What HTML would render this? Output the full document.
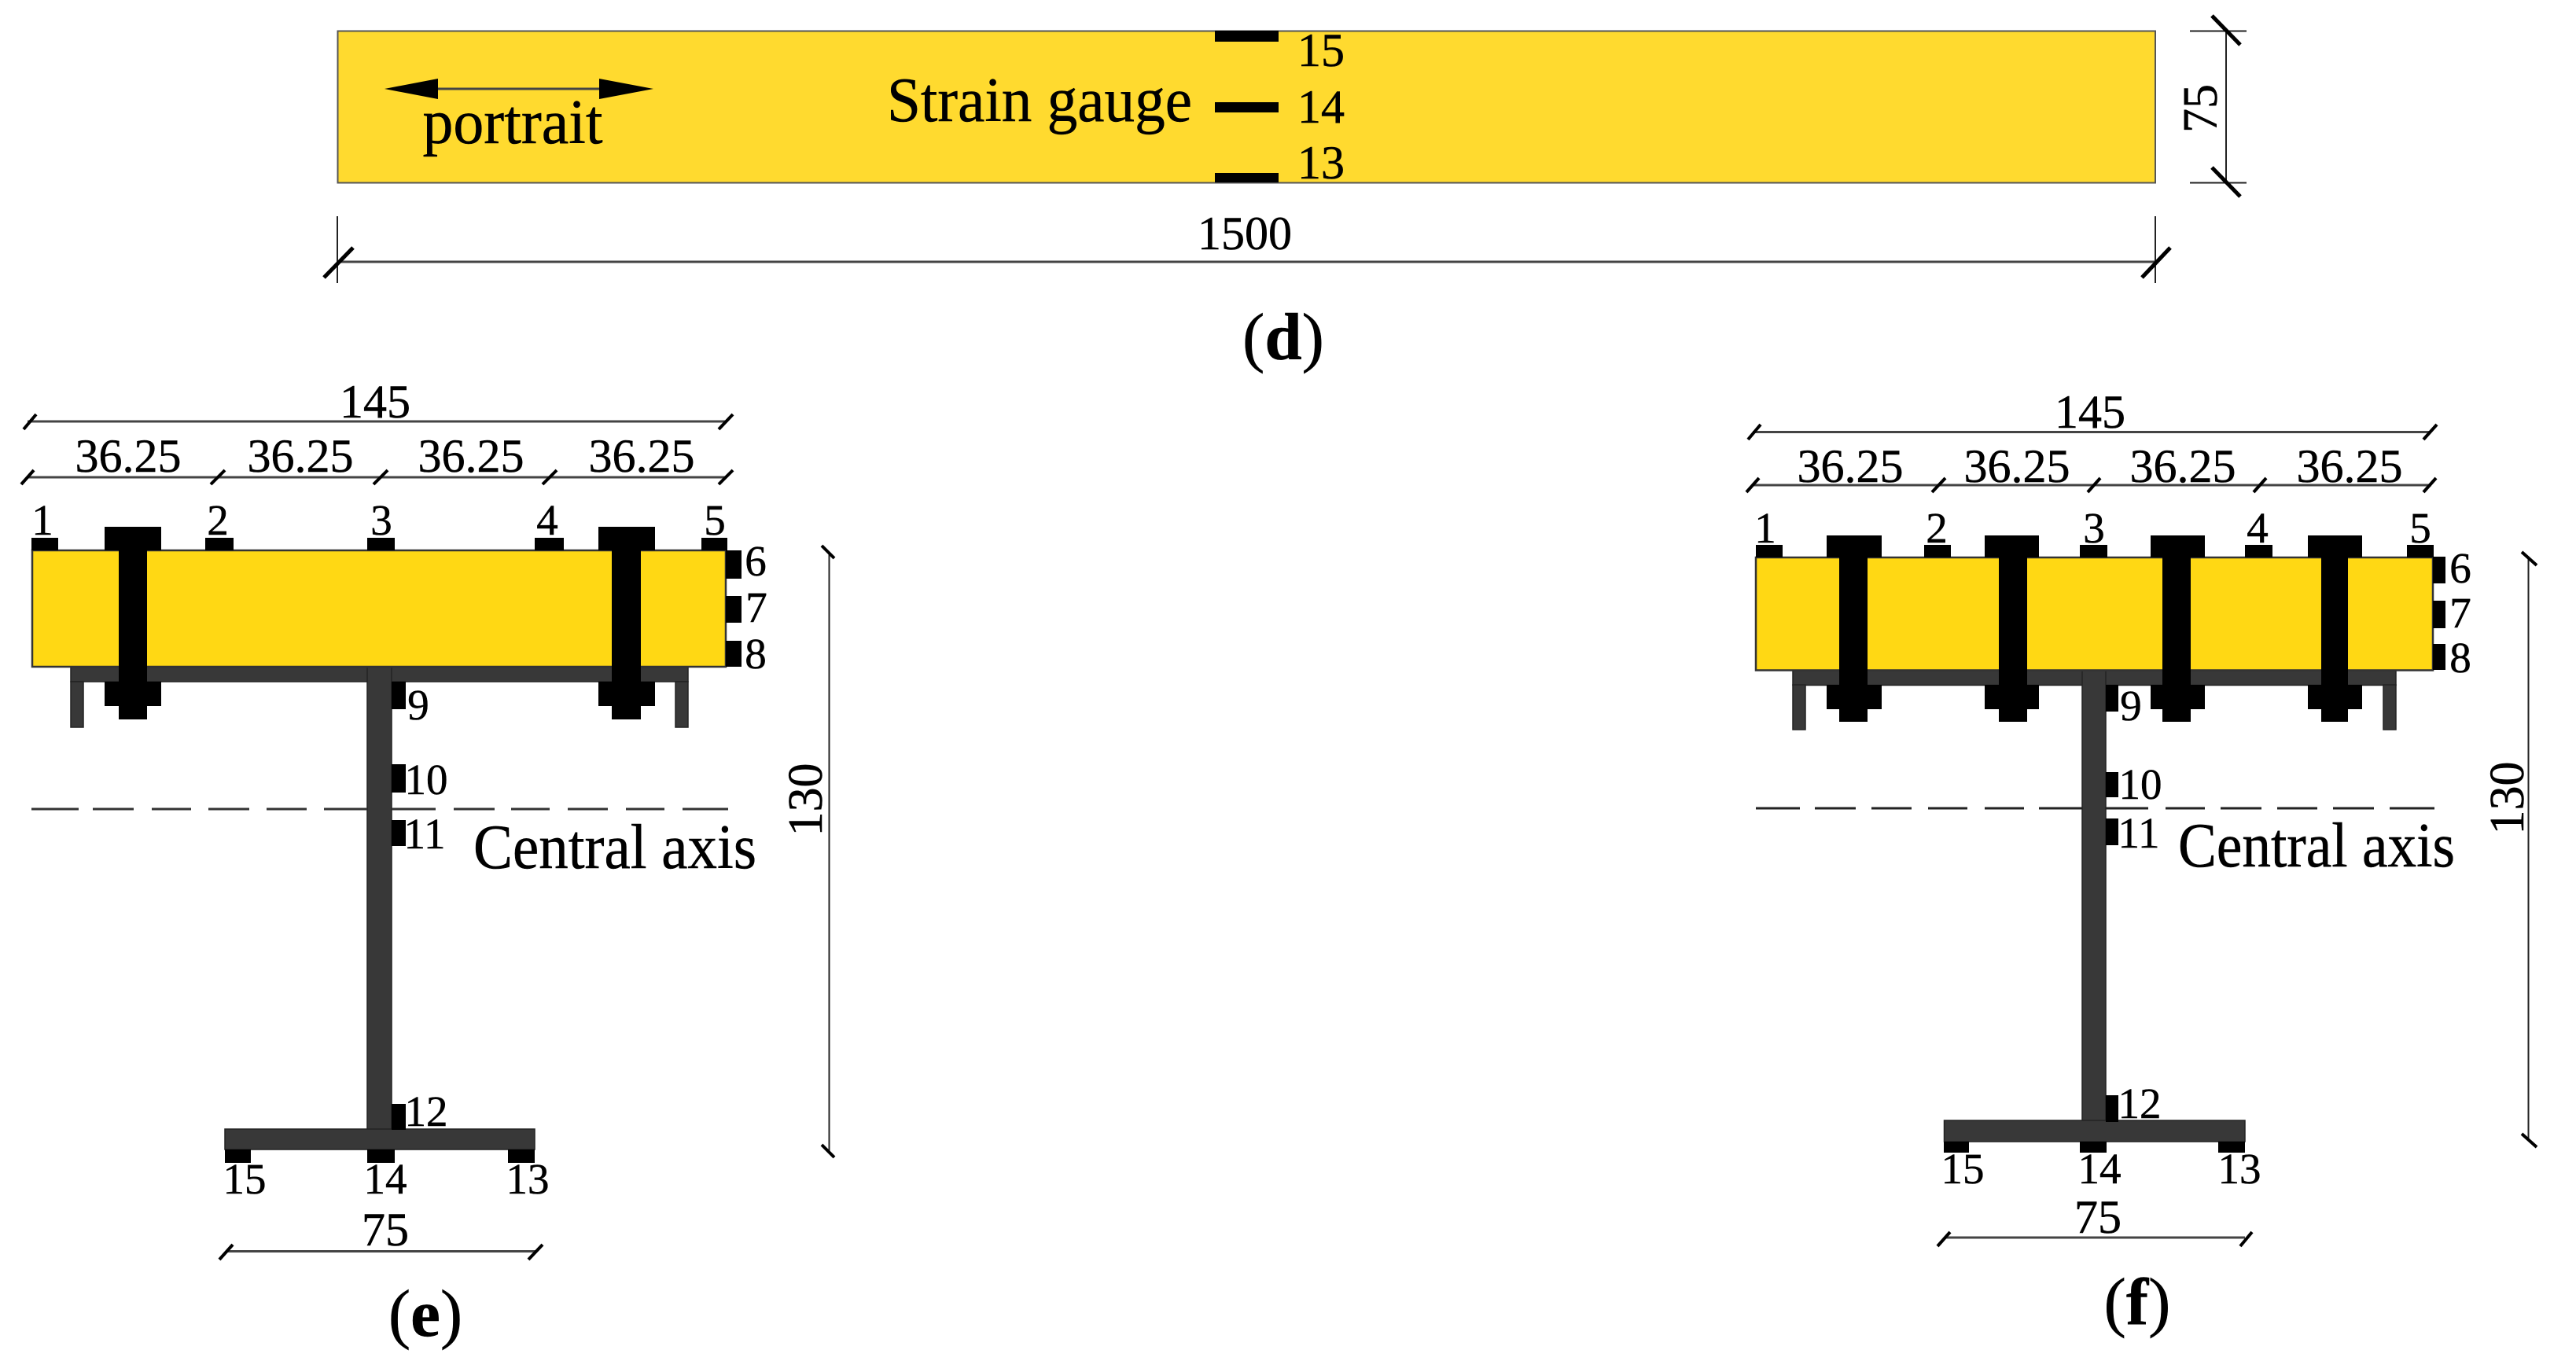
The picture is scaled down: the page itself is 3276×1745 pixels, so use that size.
<!DOCTYPE html>
<html><head><meta charset="utf-8"><style>
html,body{margin:0;padding:0;background:#fff}
svg{display:block}
text{font-family:"Liberation Serif",serif;fill:#000;text-anchor:middle;stroke:#000;stroke-width:.5px}
.n{font-size:60px}.s{font-size:55px}.b{font-size:80px}.c{font-size:85px}
.k{fill:#000}.st{fill:#383838;stroke:#222;stroke-width:1.5}
.d{stroke:#444;stroke-width:3;fill:none}.t{stroke:#000;stroke-width:5;fill:none}
.h{stroke:#222;stroke-width:2;fill:none}
</style></head><body>
<svg xmlns="http://www.w3.org/2000/svg" width="3276" height="1745" viewBox="0 0 3276 1745">
<rect width="3276" height="1745" fill="#fff"/>
<!-- (d) -->
<rect x="429.5" y="39.5" width="2311.5" height="193" fill="#FFDA2F" stroke="#555" stroke-width="2"/>
<rect class="k" x="1545" y="39" width="81" height="14"/><rect class="k" x="1545" y="130" width="81" height="13"/><rect class="k" x="1545" y="220" width="81" height="12"/>
<text class="n" x="1680" y="84">15</text><text class="n" x="1680" y="156">14</text><text class="n" x="1680" y="227">13</text>
<text class="b" x="1322" y="154" textLength="388" lengthAdjust="spacingAndGlyphs">Strain gauge</text>
<path class="d" d="M557 113H762"/><path class="k" d="M489 113L557 100V126ZM831 113L762 100V126Z"/>
<text class="b" x="652" y="182" textLength="229" lengthAdjust="spacingAndGlyphs">portrait</text>
<text class="n" x="1583" y="317">1500</text>
<path class="d" d="M429 333H2741"/><path class="h" d="M429 275V360M2741 275V360M2785 39.5H2857M2785 232.5H2857M2831 39V232"/>
<path class="t" d="M412 353L449 315M2724 353L2760 315M2813 20L2849 57M2813 213L2849 250"/>
<text class="n" style="font-size:62px" transform="translate(2819 138) rotate(-90)">75</text>
<text class="c" x="1632" y="457">(<tspan font-weight="bold">d</tspan>)</text>

<!-- (e) -->
<text class="n" x="477" y="531">145</text>
<text class="n" x="163" y="600">36.25</text><text class="n" x="382" y="600">36.25</text><text class="n" x="599" y="600">36.25</text><text class="n" x="816" y="600">36.25</text>
<path class="d" d="M35 536H922M35 607H922"/>
<path class="t" style="stroke-width:4" d="M30 546L46 527M914 546L932 527M27 616L43 598M268 616L286 598M475 616L493 598M690 616L708 598M914 616L932 598"/>
<rect class="st" x="90" y="848" width="785" height="19"/><rect class="st" x="90" y="867" width="16" height="58"/><rect class="st" x="859" y="867" width="16" height="58"/>
<rect class="st" x="467" y="848" width="31" height="600"/><rect class="st" x="286" y="1436" width="394" height="26"/>
<rect x="41" y="700" width="882" height="148" fill="#FFD814" stroke="#333" stroke-width="2.5"/>
<path class="k" d="M133 670H205V700H187V867H205V898H187V915H151V898H133V867H151V700H133ZM761 670H833V700H815V867H833V898H815V915H778V898H761V867H778V700H761Z"/>
<path class="k" d="M40 684H74V700H40ZM261 684H297V700H261ZM467 684H502V700H467ZM680 684H717V700H680ZM892 684H925V700H892ZM923 700H943V736H923ZM923 758H943V792H923ZM923 815H943V848H923ZM498 867H516V902H498ZM498 972H516V1008H498ZM498 1043H516V1076H498ZM498 1404H516V1437H498ZM286 1462H319V1479H286ZM467 1462H502V1479H467ZM646 1462H680V1479H646Z"/>
<text class="s" x="54" y="680">1</text><text class="s" x="277" y="680">2</text><text class="s" x="485" y="680">3</text><text class="s" x="696" y="680">4</text><text class="s" x="909" y="680">5</text>
<text class="s" x="961" y="732">6</text><text class="s" x="962" y="791">7</text><text class="s" x="961" y="850">8</text>
<text class="s" x="532" y="915">9</text><text class="s" x="542" y="1010">10</text><text class="s" x="540" y="1079">11</text><text class="s" x="542" y="1432">12</text>
<text class="s" x="311" y="1518">15</text><text class="s" x="490" y="1518">14</text><text class="s" x="671" y="1518">13</text>
<path stroke="#333" stroke-width="3" fill="none" d="M40 1029H100M118 1029H170M193 1029H243M265 1029H317M339 1029H390M412 1029H467M498 1029H554M577 1029H629M650 1029H699M722 1029H773M796 1029H845M868 1029H926"/>
<text class="b" x="782" y="1104" textLength="360" lengthAdjust="spacingAndGlyphs">Central axis</text>
<path class="h" d="M1054.5 702V1466"/><path class="t" style="stroke-width:4" d="M1045 694L1061 710M1045 1456L1061 1472"/>
<text class="n" style="font-size:62px" transform="translate(1045 1017) rotate(-90)">130</text>
<text class="n" x="490" y="1584">75</text><path class="d" d="M288 1591.5H682"/>
<path class="t" style="stroke-width:4" d="M279 1602L296 1583M672 1602L690 1583"/>
<text class="c" x="541" y="1699">(<tspan font-weight="bold">e</tspan>)</text>

<!-- (f) -->
<text class="n" x="2658" y="544">145</text>
<text class="n" x="2353" y="613">36.25</text><text class="n" x="2565" y="613">36.25</text><text class="n" x="2776" y="613">36.25</text><text class="n" x="2988" y="613">36.25</text>
<path class="d" d="M2229 549.5H3092M2229 617H3092"/>
<path class="t" style="stroke-width:4" d="M2223 559L2239 540M3082 559L3099 540M2221 626L2237 608M2457 626L2474 608M2655 626L2671 608M2866 626L2882 608M3082 626L3098 608"/>
<rect class="st" x="2280" y="852" width="767" height="19.5"/><rect class="st" x="2280" y="871" width="16" height="57"/><rect class="st" x="3031" y="871" width="16" height="57"/>
<rect class="st" x="2648" y="852" width="30" height="585"/><rect class="st" x="2472.5" y="1425" width="382.5" height="27"/>
<rect x="2233" y="709" width="861" height="143.5" fill="#FFD814" stroke="#333" stroke-width="2.5"/>
<path class="k" d="M2323 681H2393V709H2375V871H2393V902H2375V918H2339V902H2323V871H2339V709H2323ZM2524 681H2593V709H2578V871H2593V902H2578V918H2542V902H2524V871H2542V709H2524ZM2735 681H2804V709H2786V871H2804V902H2786V918H2750V902H2735V871H2750V709H2735ZM2935 681H3004V709H2986V871H3004V902H2986V918H2952V902H2935V871H2952V709H2935Z"/>
<path class="k" d="M2233 693H2267V709H2233ZM2447 693H2481V709H2447ZM2645 693H2680V709H2645ZM2855 693H2890V709H2855ZM3061 693H3095V709H3061ZM3094 708H3110V742H3094ZM3094 764H3110V799H3094ZM3094 819H3110V852H3094ZM2678 871H2694V905H2678ZM2678 982H2694V1014H2678ZM2678 1041H2694V1075H2678ZM2678 1393H2694V1427H2678ZM2472 1452H2504V1466H2472ZM2645 1452H2679V1466H2645ZM2821 1452H2855V1466H2821Z"/>
<text class="s" x="2245" y="690">1</text><text class="s" x="2463" y="690">2</text><text class="s" x="2663" y="690">3</text><text class="s" x="2871" y="690">4</text><text class="s" x="3078" y="690">5</text>
<text class="s" x="3129" y="741">6</text><text class="s" x="3129" y="798">7</text><text class="s" x="3129" y="855">8</text>
<text class="s" x="2710" y="916">9</text><text class="s" x="2722" y="1016">10</text><text class="s" x="2720" y="1078">11</text><text class="s" x="2721" y="1422">12</text>
<text class="s" x="2496" y="1505">15</text><text class="s" x="2670" y="1505">14</text><text class="s" x="2848" y="1505">13</text>
<path stroke="#222" stroke-width="3" fill="none" d="M2233 1028H2289M2308 1028H2360M2380 1028H2431M2452 1028H2502M2524 1028H2574M2593 1028H2648M2678 1028H2732M2754 1028H2804M2824 1028H2876M2896 1028H2947M2967 1028H3019M3039 1028H3096"/>
<text class="b" x="2946" y="1102" textLength="352" lengthAdjust="spacingAndGlyphs">Central axis</text>
<path class="h" d="M3215.5 710V1450"/><path class="t" style="stroke-width:4" d="M3207 702L3226 719M3207 1442L3226 1459"/>
<text class="n" style="font-size:62px" transform="translate(3209 1015) rotate(-90)">130</text>
<text class="n" x="2668" y="1568">75</text><path class="d" d="M2474 1574H2855"/>
<path class="t" style="stroke-width:4" d="M2464 1585L2480 1567M2849 1585L2864 1567"/>
<text class="c" x="2718" y="1684">(<tspan font-weight="bold">f</tspan>)</text>
</svg>
</body></html>
